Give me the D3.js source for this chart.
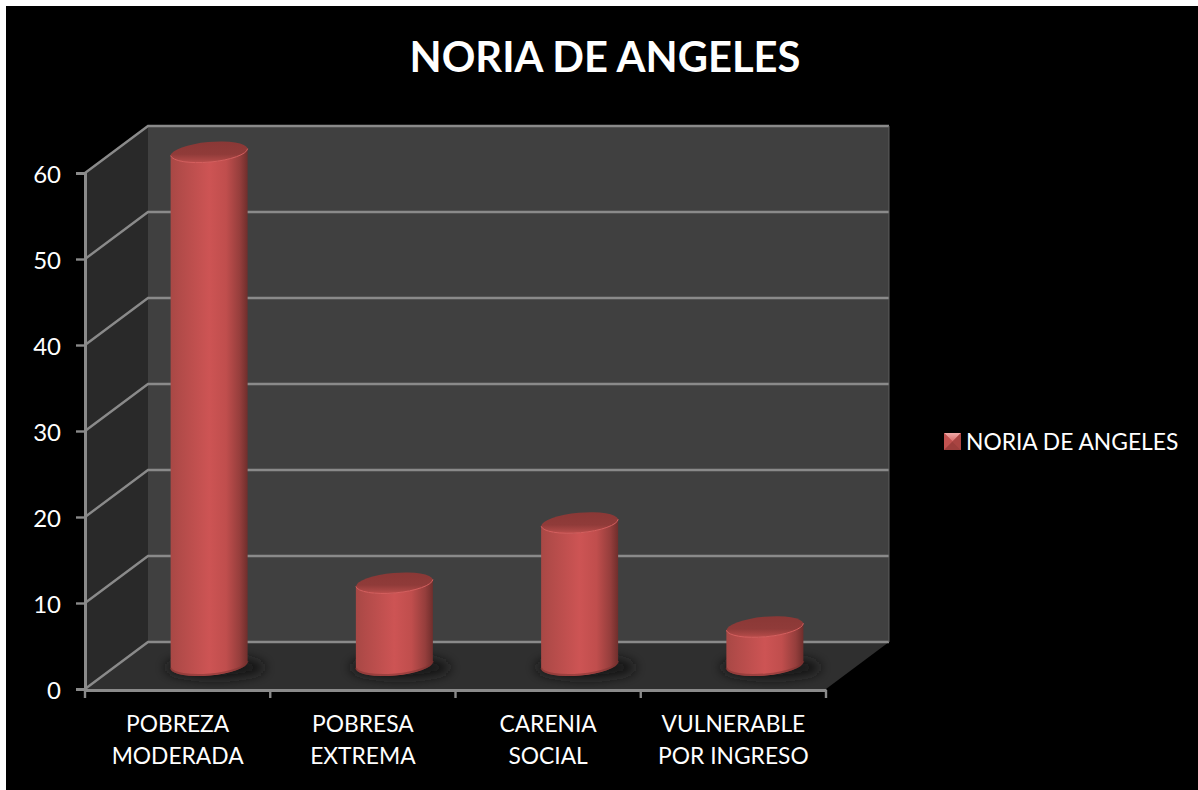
<!DOCTYPE html>
<html>
<head>
<meta charset="utf-8">
<script src="https://cdn.jsdelivr.net/npm/d3@7"></script>
<style>
  html, body { margin: 0; padding: 0; background: #fff; overflow: hidden; }
  svg { display: block; }
  text { font-family: Lato, "Open Sans", sans-serif; fill: #fff; }
</style>
</head>
<body>
<svg id="chart" width="1198" height="790"></svg>
<script>
// Chart data
const titleText = "NORIA DE ANGELES";
const seriesName = "NORIA DE ANGELES";
const categories = ["POBREZA MODERADA", "POBRESA EXTREMA", "CARENIA SOCIAL", "VULNERABLE POR INGRESO"];
const categoryLines = [["POBREZA", "MODERADA"], ["POBRESA", "EXTREMA"], ["CARENIA", "SOCIAL"], ["VULNERABLE", "POR INGRESO"]];
const values = [59.7, 9.6, 16.6, 4.5];
const yTicks = [0, 10, 20, 30, 40, 50, 60];

const svg = d3.select("#chart");

// Fake 3D box: front plane scales, plus a depth offset to the back wall
const depthX = 63, depthY = 47;
const x = d3.scaleBand().domain(categories).range([85, 826]);
const y = d3.scaleLinear().domain([0, 60]).range([689, 173]);
const barWidth = 77;
const tiltY = 3.5; // cylinder ellipses lean a little
const barRx = 38.7, barRy = 10.5;

const gridColor = "#8a8a8a";

// Background, white strip left and top comes from the page
svg.append("rect").attr("x", 6).attr("y", 6).attr("width", 1192).attr("height", 784).attr("fill", "#000");

// Gradients
const defs = svg.append("defs");
const sideGrad = defs.append("linearGradient").attr("id", "cylSide");
[[0, "#a84845"], [0.12, "#b24b49"], [0.5, "#cd5454"], [0.72, "#c04e4d"], [0.9, "#953e3c"], [1, "#6f2e2c"]]
  .forEach(s => sideGrad.append("stop").attr("offset", s[0]).attr("stop-color", s[1]));
const topGrad = defs.append("linearGradient").attr("id", "cylTop").attr("x1", 0).attr("y1", 0).attr("x2", 0).attr("y2", 1);
[[0, "#8a3836"], [0.6, "#903b39"], [0.85, "#a84644"], [1, "#bb4e4c"]]
  .forEach(s => topGrad.append("stop").attr("offset", s[0]).attr("stop-color", s[1]));
defs.append("filter").attr("id", "blur").attr("x", "-30%").attr("y", "-60%").attr("width", "160%").attr("height", "220%")
  .append("feGaussianBlur").attr("stdDeviation", 6);
const keyGrad = defs.append("linearGradient").attr("id", "keyTop").attr("x1", 0).attr("y1", 0).attr("x2", 0).attr("y2", 1);
[[0, "#f0a9a7"], [1, "#d86a68"]]
  .forEach(s => keyGrad.append("stop").attr("offset", s[0]).attr("stop-color", s[1]));

// Walls and floor
const y0 = y(0), yTop = y(60), xL = x.range()[0], xR = x.range()[1];
const poly = pts => pts.map(p => p.join(",")).join(" ");
svg.append("polygon")
  .attr("points", poly([[xL + depthX, yTop - depthY], [xR + depthX, yTop - depthY], [xR + depthX, y0 - depthY], [xL + depthX, y0 - depthY]]))
  .attr("fill", "#404040");
svg.append("polygon")
  .attr("points", poly([[xL, yTop], [xL + depthX, yTop - depthY], [xL + depthX, y0 - depthY], [xL, y0]]))
  .attr("fill", "#292929");
svg.append("polygon")
  .attr("points", poly([[xL, y0], [xL + depthX, y0 - depthY], [xR + depthX, y0 - depthY], [xR, y0]]))
  .attr("fill", "#2f2f2f");

// Gridlines run up the side wall then across the back wall
svg.append("g").selectAll("polyline").data(yTicks).join("polyline")
  .attr("points", d => poly([[xL, y(d)], [xL + depthX, y(d) - depthY], [xR + depthX, y(d) - depthY]]))
  .attr("fill", "none").attr("stroke", gridColor).attr("stroke-width", 2.4);

// Right edge of the back wall
svg.append("line")
  .attr("x1", xR + depthX).attr("x2", xR + depthX)
  .attr("y1", yTop - depthY).attr("y2", y0 - depthY)
  .attr("stroke", "#5c5c5c").attr("stroke-width", 1);

// Axes
const yAxis = svg.append("g").attr("transform", `translate(${xL},0)`)
  .call(d3.axisLeft(y).tickValues(yTicks).tickSize(9).tickPadding(15));
const xAxis = svg.append("g").attr("transform", `translate(0,${y0 + 1})`)
  .call(d3.axisBottom(x).tickSize(0).tickFormat(""));
[yAxis, xAxis].forEach(a => {
  a.selectAll(".domain").attr("stroke", gridColor).attr("stroke-width", 3);
  a.selectAll(".tick line").attr("stroke", gridColor).attr("stroke-width", 2.4);
});
yAxis.selectAll("text").style("font-family", "Lato, sans-serif").style("font-size", "24px").attr("fill", "#fff").attr("dy", "0.4em");

// x ticks sit on the band edges, not the centres
xAxis.append("g").selectAll("line").data(categories.concat([null])).join("line")
  .attr("x1", (d, i) => xL + i * x.step()).attr("x2", (d, i) => xL + i * x.step())
  .attr("y1", 0).attr("y2", 8)
  .attr("stroke", gridColor).attr("stroke-width", 2.4);

// Category labels
svg.append("g").selectAll("text").data(categories).join("text")
  .attr("text-anchor", "middle")
  .attr("font-size", 22.8)
  .attr("transform", d => `translate(${x(d) + x.bandwidth() / 2},732)`)
  .each(function (d, i) {
    categoryLines[i].forEach((line, j) => {
      d3.select(this).append("tspan").attr("x", 0).attr("y", j * 32).text(line);
    });
  });

// Cylinders stand mid-depth on the floor
const cx = d => x(d) + x.bandwidth() / 2 + depthX / 2;
const floorY = y0 - depthY / 2;
const topY = (d, i) => floorY - (y0 - y(values[i]));
const arc = (sweep, xTo, yTo) => `A${barRx},${barRy} -5.2 0 ${sweep} ${xTo},${yTo}`;

const bars = svg.append("g").selectAll("g").data(categories).join("g");

bars.append("ellipse")
  .attr("cx", d => cx(d) + 6).attr("cy", floorY + 2)
  .attr("rx", 50).attr("ry", 11)
  .attr("fill", "#141414").attr("filter", "url(#blur)");

const sidePath = (d, i) => {
  const c = cx(d), l = c - barWidth / 2, r = c + barWidth / 2, t = topY(d, i);
  return `M${l},${t + tiltY} L${l},${floorY + tiltY} ${arc(0, r, floorY - tiltY)} L${r},${t - tiltY} ${arc(1, l, t + tiltY)}Z`;
};
bars.append("path").attr("d", sidePath).attr("fill", "url(#cylSide)");

// Soft darker edge along the foot of the cylinder
bars.append("path")
  .attr("d", d => {
    const c = cx(d), l = c - barWidth / 2, r = c + barWidth / 2;
    return `M${l},${floorY + tiltY - 1} ${arc(0, r, floorY - tiltY - 1)}`;
  })
  .attr("fill", "none").attr("stroke", "#7d3331").attr("stroke-opacity", 0.55).attr("stroke-width", 2);

bars.append("path")
  .attr("d", (d, i) => {
    const c = cx(d), l = c - barWidth / 2, r = c + barWidth / 2, t = topY(d, i);
    return `M${l},${t + tiltY} ${arc(1, r, t - tiltY)} ${arc(1, l, t + tiltY)}Z`;
  })
  .attr("fill", "url(#cylTop)");

// Bright rim along the front of the top face
bars.append("path")
  .attr("d", (d, i) => {
    const c = cx(d), l = c - barWidth / 2, r = c + barWidth / 2, t = topY(d, i);
    return `M${l},${t + tiltY} ${arc(0, r, t - tiltY)}`;
  })
  .attr("fill", "none").attr("stroke", "#d65f5e").attr("stroke-width", 1);

// Title
svg.append("text")
  .attr("x", 605).attr("y", 72)
  .attr("text-anchor", "middle")
  .attr("font-size", 41.7).attr("font-weight", 700)
  .text(titleText);

// Legend with a bevelled key
const key = svg.append("g").attr("transform", "translate(944,433)");
key.append("rect").attr("width", 17).attr("height", 17).attr("fill", "#b84c4a");
key.append("polygon").attr("points", "0,0 17,0 8.5,8.5").attr("fill", "url(#keyTop)");
key.append("polygon").attr("points", "0,0 8.5,8.5 0,17").attr("fill", "#c25250");
key.append("polygon").attr("points", "17,0 8.5,8.5 17,17").attr("fill", "#a94442");
key.append("polygon").attr("points", "0,17 17,17 8.5,8.5").attr("fill", "#9c3e3c");
svg.append("text")
  .attr("x", 966).attr("y", 450)
  .attr("font-size", 22.8)
  .text(seriesName);
</script>
</body>
</html>
